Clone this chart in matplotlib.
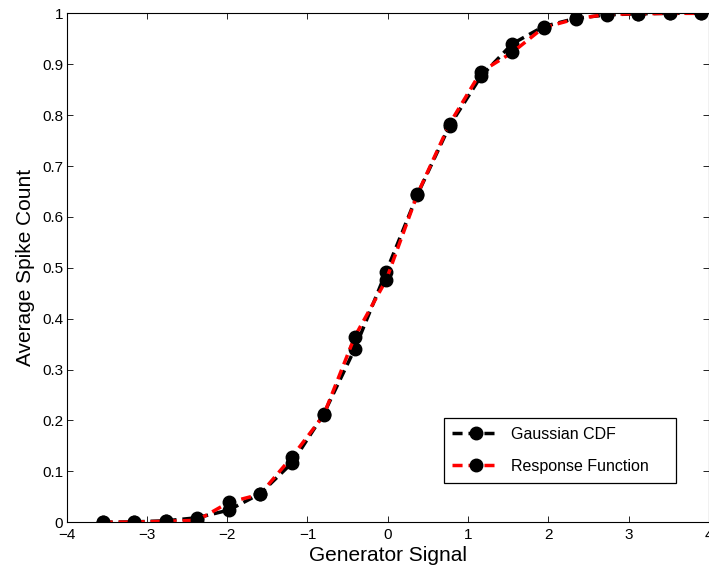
import matplotlib
matplotlib.use("Agg")
import matplotlib.pyplot as plt

# ---- data ----
signal = [-3.55, -3.16, -2.76, -2.37, -1.98, -1.59, -1.19, -0.80, -0.41, -0.02,
          0.37, 0.77, 1.16, 1.55, 1.94, 2.34, 2.73, 3.12, 3.51, 3.90]
gaussian_cdf = [0.0002, 0.0008, 0.003, 0.009, 0.024, 0.056, 0.117, 0.212, 0.341, 0.492,
                0.644, 0.779, 0.876, 0.940, 0.974, 0.990, 0.997, 0.999, 1.0, 1.0]
response_fn = [0.0, 0.0005, 0.002, 0.004, 0.039, 0.055, 0.129, 0.210, 0.365, 0.476,
               0.645, 0.783, 0.885, 0.923, 0.972, 0.989, 0.998, 0.999, 1.0, 1.0]
series_names = ["Gaussian CDF", "Response Function"]
x_ticks = [-4, -3, -2, -1, 0, 1, 2, 3, 4]
x_tick_labels = ["\u22124", "\u22123", "\u22122", "\u22121", "0", "1", "2", "3", "4"]
y_ticks = [0, 0.1, 0.2, 0.3, 0.4, 0.5, 0.6, 0.7, 0.8, 0.9, 1]
y_tick_labels = ["0", "0.1", "0.2", "0.3", "0.4", "0.5", "0.6", "0.7", "0.8", "0.9", "1"]

plt.rcParams['font.family'] = ['Liberation Sans', 'DejaVu Sans']

fig = plt.figure(figsize=(7.09, 5.73), dpi=100)
ax = fig.add_axes([66.5 / 709, 50.7 / 573, 642.5 / 709, 509 / 573])

common = dict(linewidth=2.5, marker='o', markersize=9, markerfacecolor='black',
              markeredgecolor='black', dashes=(2.9, 1.7))
ax.plot(signal, gaussian_cdf, color='black', label=series_names[0], **common)
ax.plot(signal, response_fn, color='red', label=series_names[1], **common)

ax.set_xlim(-4, 4)
ax.set_ylim(0, 1)
ax.set_xticks(x_ticks)
ax.set_xticklabels(x_tick_labels)
ax.set_yticks(y_ticks)
ax.set_yticklabels(y_tick_labels)
ax.tick_params(direction='in', length=4.5, width=0.6, labelsize=11,
               top=True, right=True, colors='black')
ax.tick_params(axis='x', pad=4)
ax.tick_params(axis='y', pad=2.5)
for s in ax.spines.values():
    s.set_linewidth(0.8)
    s.set_color('black')

ax.set_xlabel("Generator Signal", fontsize=15, labelpad=3)
ax.set_ylabel("Average Spike Count", fontsize=15, labelpad=5)

leg = ax.legend(loc='lower left', bbox_to_anchor=(0.587, 0.078, 0.362, 0.135),
                mode='expand', fontsize=11.5,
                handlelength=2.9, handletextpad=0.75, borderpad=0.55,
                labelspacing=1.05, fancybox=False, framealpha=1, borderaxespad=0)
leg.get_frame().set_edgecolor('black')
leg.get_frame().set_linewidth(0.9)

fig.savefig("out.png", dpi=100)
